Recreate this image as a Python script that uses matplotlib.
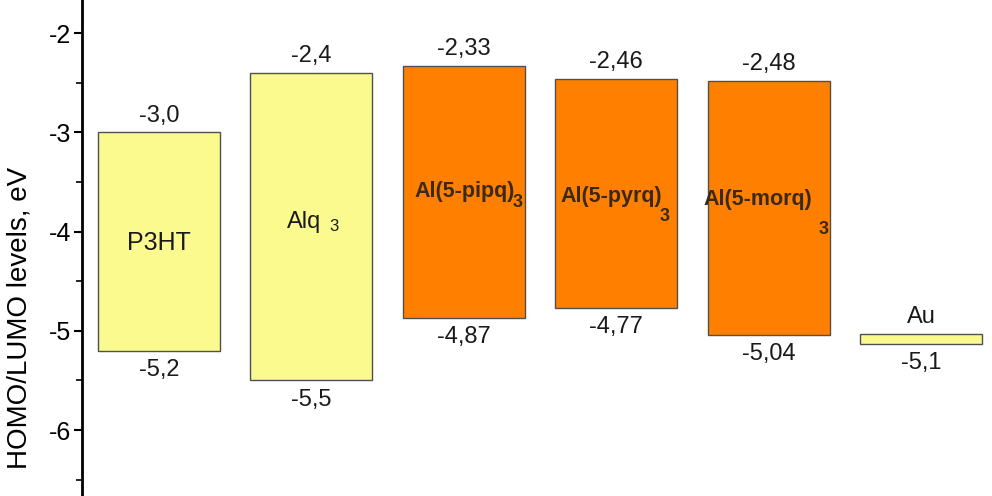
import matplotlib
matplotlib.use("Agg")
import matplotlib.pyplot as plt
from matplotlib.ticker import MultipleLocator

plt.rcParams['font.family'] = ['Liberation Sans', 'DejaVu Sans']
plt.rcParams['axes.unicode_minus'] = False

materials = ['P3HT', 'Alq3', 'Al(5-pipq)3', 'Al(5-pyrq)3', 'Al(5-morq)3', 'Au']
lumo = [-3.0, -2.4, -2.33, -2.46, -2.48, -5.03]
homo = [-5.2, -5.5, -4.87, -4.77, -5.04, -5.13]
lumo_labels = ['-3,0', '-2,4', '-2,33', '-2,46', '-2,48', 'Au']
homo_labels = ['-5,2', '-5,5', '-4,87', '-4,77', '-5,04', '-5,1']
yticks = [-2, -3, -4, -5, -6]

yellow = '#FAFA8E'
orange = '#FF8000'
colors = [yellow, yellow, orange, orange, orange, yellow]

fig = plt.figure(figsize=(9.92, 4.96), dpi=100)
ax = fig.add_axes([82/992, 0.0, 1 - 82/992, 1.0])

x = list(range(len(materials)))
heights = [l - h for l, h in zip(lumo, homo)]
ax.bar(x, heights, bottom=homo, width=0.8, color=colors,
       edgecolor='#505050', linewidth=1.0)

ax.set_xlim(-0.505, 5.466)
ax.set_ylim(-6.665, -1.667)

for spine in ['top', 'right', 'bottom']:
    ax.spines[spine].set_visible(False)
ax.spines['left'].set_linewidth(2.0)
ax.set_xticks([])
ax.set_yticks(yticks)
ax.set_yticklabels([str(t) for t in yticks])
ax.yaxis.set_minor_locator(MultipleLocator(0.5))
ax.tick_params(axis='y', which='major', direction='out', length=6, width=1.5,
               labelsize=18, pad=2)
ax.tick_params(axis='y', which='minor', direction='out', length=4, width=1.2)

ax.set_ylabel('HOMO/LUMO levels, eV', fontsize=20)
ax.yaxis.set_label_coords(-0.054, 0.36)

# value labels
for i in x:
    ax.annotate(lumo_labels[i], (x[i], lumo[i]), xytext=(0, 4),
                textcoords='offset points', ha='center', va='bottom',
                fontsize=17, color='#1a1a1a')
    ax.annotate(homo_labels[i], (x[i], homo[i]), xytext=(0, -6),
                textcoords='offset points', ha='center', va='top',
                fontsize=17, color='#1a1a1a')

# inner labels
ax.text(0, -4.12, 'P3HT', ha='center', va='center', fontsize=18, color='#1a1a1a')
ax.text(0.951, -3.9, 'Alq', ha='center', va='center', fontsize=17, color='#1a1a1a')
ax.text(1.148, -3.95, '3', ha='center', va='center', fontsize=12, color='#1a1a1a')

inner = [(2.005, -3.60, 'Al(5-pipq)', 2.356, -3.71),
         (2.966, -3.65, 'Al(5-pyrq)', 3.32, -3.85),
         (3.93, -3.68, 'Al(5-morq)', 4.36, -3.98)]
for xi, yi, txt, xs, ys in inner:
    ax.text(xi, yi, txt, ha='center', va='center', fontsize=15.5,
            fontweight='bold', color='#3a2a15')
    ax.text(xs, ys, '3', ha='center', va='center', fontsize=13,
            fontweight='bold', color='#3a2a15')

fig.savefig('out.png', dpi=100)
